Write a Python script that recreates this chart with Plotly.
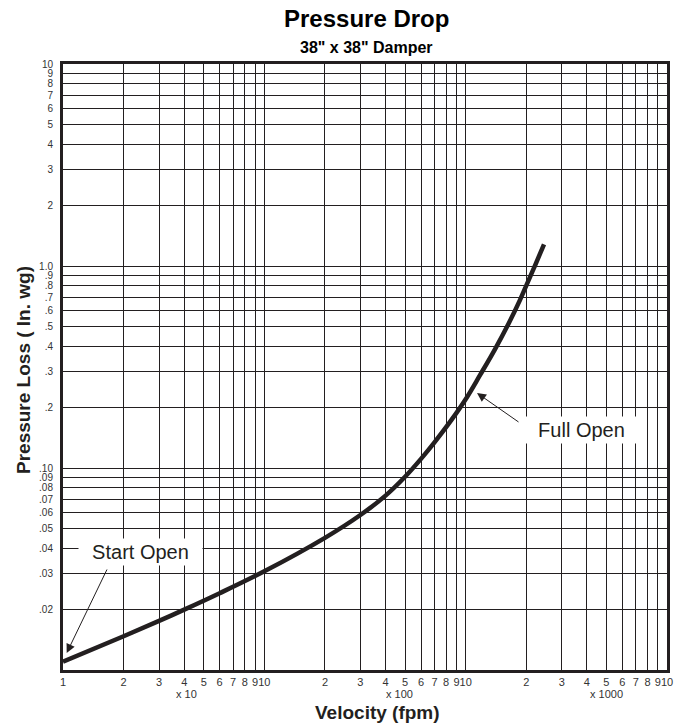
import math
import plotly.graph_objects as go

# ---------------- data ----------------
velocity_fpm = [10, 20, 30, 40, 60, 100, 200, 300, 400, 500, 600, 700, 850,
                1000, 1180, 1400, 1630, 1860, 2000, 2210, 2450]
pressure_loss = [0.0110, 0.0147, 0.0175, 0.0199, 0.0240, 0.0308, 0.0451, 0.0585,
                 0.0730, 0.0905, 0.111, 0.134, 0.173,
                 0.219, 0.289, 0.388, 0.516, 0.678, 0.80, 1.005, 1.28]

x_tick_vals = [10, 20, 30, 40, 50, 60, 70, 80, 90, 100,
               200, 300, 400, 500, 600, 700, 800, 900, 1000,
               2000, 3000, 4000, 5000, 6000, 7000, 8000, 9000, 10000]
x_tick_text = ["1", "2", "3", "4", "5", "6", "7", "8", "9", "10",
               "2", "3", "4", "5", "6", "7", "8", "9", "10",
               "2", "3", "4", "5", "6", "7", "8", "9", "10"]
x_multipliers = ["x 10", "x 100", "x 1000"]
x_multiplier_pos = [41, 467, 5030]

y_tick_vals = [0.02, 0.03, 0.04, 0.05, 0.06, 0.07, 0.08, 0.09, 0.10,
               0.2, 0.3, 0.4, 0.5, 0.6, 0.7, 0.8, 0.9, 1.0,
               2, 3, 4, 5, 6, 7, 8, 9, 10]
y_tick_text = [".02", ".03", ".04", ".05", ".06", ".07", ".08", ".09", ".10",
               ".2", ".3", ".4", ".5", ".6", ".7", ".8", ".9", "1.0",
               "2", "3", "4", "5", "6", "7", "8", "9", "10"]

title_text = "Pressure Drop"
subtitle_text = "38\" x 38\" Damper"
x_title = "Velocity (fpm)"
y_title = "Pressure Loss ( In. wg)"

INK = "#231f20"
FONT = "Liberation Sans, Arial, sans-serif"

W, H = 691, 728
OFF = 8  # default page body margin in the browser
# plot area in screen pixels
SL, SR, ST, SB = 63, 667, 64, 670
L, R, T, B = SL - OFF, W - (SR - OFF), ST - OFF, H - (SB - OFF)
PW, PH = SR - SL, SB - ST

def px_to_paper_x(px):
    return (px - SL) / PW

def px_to_paper_y(py):
    return (SB - py) / PH

def lx(px):
    return 1 + (px - SL) / (PW / 3)

def ly(py):
    return -2 + (SB - py) / (PH / 3)

fig = go.Figure()
fig.add_trace(go.Scatter(
    x=velocity_fpm, y=pressure_loss, mode="lines",
    line=dict(color=INK, width=4.5, shape="spline", smoothing=1.0),
    hoverinfo="skip", showlegend=False,
))

axis_common = dict(
    type="log", showgrid=True, gridcolor=INK, gridwidth=1,
    showline=True, linecolor=INK, linewidth=3, mirror=True,
    zeroline=False, ticks="", tickmode="array",
)

fig.update_xaxes(range=[1, 4], tickvals=x_tick_vals, ticktext=x_tick_text,
                 tickangle=0, ticklabelstandoff=0,
                 tickfont=dict(family=FONT, size=11, color="#333333"), **axis_common)
fig.update_yaxes(range=[-2, 1], tickvals=y_tick_vals, ticktext=y_tick_text,
                 ticklabelstandoff=5,
                 tickfont=dict(family=FONT, size=10, color="#333333"), **axis_common)

ann = []
ann.append(dict(text=f"<b>{title_text}</b>", xref="paper", yref="paper",
                x=px_to_paper_x(366), y=px_to_paper_y(19), xanchor="center", yanchor="middle",
                showarrow=False, font=dict(family=FONT, size=24, color="#000")))
ann.append(dict(text=f"<b>{subtitle_text}</b>", xref="paper", yref="paper",
                x=px_to_paper_x(366), y=px_to_paper_y(47), xanchor="center", yanchor="middle",
                showarrow=False, font=dict(family=FONT, size=16, color="#000")))
ann.append(dict(text=f"<b>{x_title}</b>", xref="paper", yref="paper",
                x=px_to_paper_x(377), y=px_to_paper_y(712), xanchor="center", yanchor="middle",
                showarrow=False, font=dict(family=FONT, size=19, color=INK)))
ann.append(dict(text=f"<b>{y_title}</b>", xref="paper", yref="paper", textangle=-90,
                x=px_to_paper_x(23), y=px_to_paper_y(370), xanchor="center", yanchor="middle",
                showarrow=False, font=dict(family=FONT, size=19, color=INK)))
for t, v in zip(x_multipliers, x_multiplier_pos):
    ann.append(dict(text=t, xref="x", yref="paper", x=math.log10(v), y=px_to_paper_y(694),
                    xanchor="center", yanchor="middle", showarrow=False,
                    font=dict(family=FONT, size=11, color="#333333")))

ann.append(dict(text="\u00a0\u00a0Start Open\u00a0\u00a0", xref="x", yref="y", x=lx(140), y=ly(552),
                xanchor="center", yanchor="middle", showarrow=False, bgcolor="white", borderpad=2,
                font=dict(family=FONT, size=20, color=INK)))
ann.append(dict(text="\u00a0\u00a0Full Open\u00a0\u00a0", xref="x", yref="y", x=lx(581), y=ly(430),
                xanchor="center", yanchor="middle", showarrow=False, bgcolor="white", borderpad=2,
                font=dict(family=FONT, size=20, color=INK)))
ann.append(dict(text="", xref="x", yref="y", x=lx(66.7), y=ly(653), ax=41, ay=-85,
                showarrow=True, arrowhead=2, arrowsize=1.8, arrowwidth=1, arrowcolor=INK))
ann.append(dict(text="", xref="x", yref="y", x=lx(477), y=ly(393), ax=43, ay=30,
                showarrow=True, arrowhead=2, arrowsize=1.8, arrowwidth=1, arrowcolor=INK))

fig.update_layout(
    width=W, height=H, margin=dict(l=L, r=R, t=T, b=B),
    paper_bgcolor="white", plot_bgcolor="white",
    annotations=ann, showlegend=False,
)

fig.write_html("out.html")
